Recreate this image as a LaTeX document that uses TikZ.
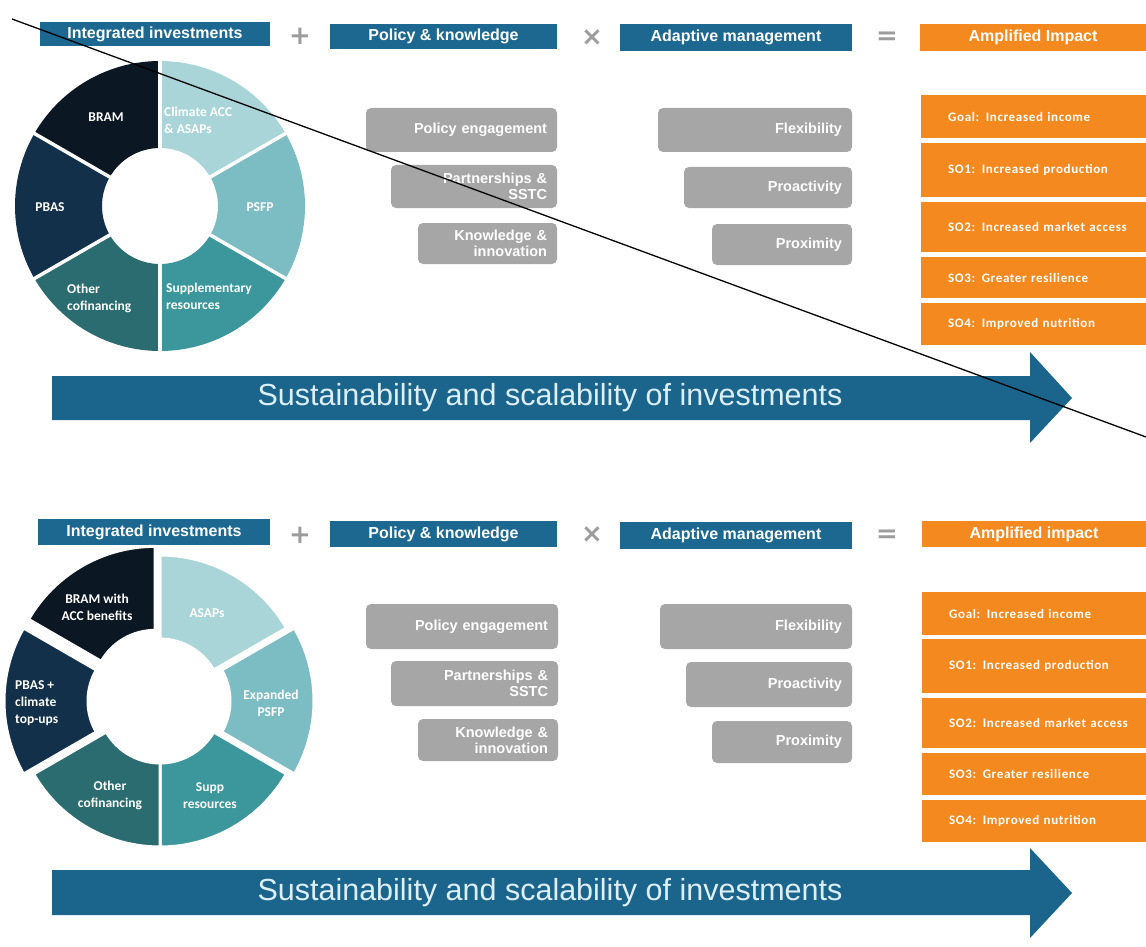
\documentclass[tikz,border=0pt]{standalone}
\usepackage{fontspec}
\setmainfont{Liberation Sans}
\newfontfamily\lib{Liberation Sans}
\newfontfamily\carl{Carlito}
\newfontfamily\carlsp[LetterSpace=5]{Carlito}
\newfontfamily\djv{DejaVu Sans}
\definecolor{hdrblue}{HTML}{1C6891}
\definecolor{arrblue}{HTML}{1B648C}
\definecolor{orng}{HTML}{F48A1F}
\definecolor{gbox}{HTML}{A6A6A6}
\definecolor{symgray}{HTML}{9C9C9C}
\definecolor{cBRAM}{HTML}{0B1722}
\definecolor{cPBAS}{HTML}{13304A}
\definecolor{cOTH}{HTML}{2B6C71}
\definecolor{cSUP}{HTML}{3C979C}
\definecolor{cPSFP}{HTML}{7CBDC4}
\definecolor{cCLIM}{HTML}{A9D4D8}
\definecolor{arrtext}{HTML}{DDEFF6}
\newcommand\donseg[5]{\fill[#5] (#1:#3) arc[start angle=#1, end angle=#2, radius=#3] -- (#2:#4) arc[start angle=#2, end angle=#1, radius=#4] -- cycle;}
\newcommand\donsegw[5]{\filldraw[fill=#5, draw=white, line width=3pt, line join=round] (#1:#3) arc[start angle=#1, end angle=#2, radius=#3] -- (#2:#4) arc[start angle=#2, end angle=#1, radius=#4] -- cycle;}
\tikzset{
  hdr/.style={fill=hdrblue, text=white, font=\lib\bfseries\fontsize{16}{18}\selectfont, inner sep=0pt},
  amp/.style={hdr, fill=orng},
  opsym/.style={text=symgray, font=\djv\bfseries\fontsize{26}{28}\selectfont, inner sep=0pt},
  gb/.style={fill=gbox, rounded corners=5pt, text=white, font=\lib\bfseries\fontsize{14.5}{16}\selectfont, align=right, inner xsep=10pt, inner ysep=0pt},
  orow/.style={fill=orng, text=white, font=\carlsp\bfseries\fontsize{13}{15}\selectfont, align=left, inner xsep=27pt, inner ysep=0pt, anchor=north west, text width=198pt},
  dlab/.style={text=white, font=\carl\bfseries\fontsize{13.5}{17}\selectfont, inner sep=0pt},
  arrtxt/.style={text=arrtext, font=\lib\fontsize{30.5}{34}\selectfont, inner sep=0pt}
}
\begin{document}
\begin{tikzpicture}[x=1pt,y=1pt]
\useasboundingbox (0,0) rectangle (1146,-947);
\fill[white] (0,0) rectangle (1146,-947);

% ================= TOP PANEL =================
\node[hdr, minimum width=230pt, minimum height=24pt] (h1) at (155,-34) {Integrated investments};
\node[opsym] (p1) at (300,-36) {+};
\node[hdr, minimum width=227pt, minimum height=25pt] (h2) at (443.5,-36.5) {Policy \& knowledge};
\node[opsym] (x1) at (592,-38) {×};
\node[hdr, minimum width=232pt, minimum height=27pt] (h3) at (736,-37.5) {Adaptive management};
\node[opsym] (e1) at (887,-38) {=};
\node[amp, minimum width=226pt, minimum height=27pt] (h4) at (1033,-37.5) {Amplified Impact};

% donut top
\begin{scope}[shift={(160,-206)}]
\donseg{90}{30}{145}{58}{cCLIM}
\donseg{30}{-30}{145}{58}{cPSFP}
\donseg{-30}{-90}{145}{58}{cSUP}
\donseg{-90}{-150}{145}{58}{cOTH}
\donseg{210}{150}{145}{58}{cPBAS}
\donseg{150}{90}{145}{58}{cBRAM}
\foreach \a in {90,30,-30,-90,-150,150}
  \draw[white, line width=3.5pt] (\a:56) -- (\a:148);
\end{scope}
\node[dlab] (tBRAM) at (106,-117) {BRAM};
\node[dlab, align=left, anchor=west] (tCLIM) at (164,-120) {Climate ACC\\\& ASAPs};
\node[dlab] (tPSFP) at (260,-207) {PSFP};
\node[dlab, align=left, anchor=west] (tSUP) at (166,-296) {Supplementary\\resources};
\node[dlab, align=left, anchor=west] (tOTH) at (67,-298) {Other\\cofinancing};
\node[dlab] (tPBAS) at (50,-207) {PBAS};

% gray boxes top
\node[gb, text width=171pt, minimum height=44pt] (pe1) at (461.5,-130) {Policy engagement};
\node[gb, text width=146pt, minimum height=43pt] (ps1) at (474,-186.5) {Partnerships \&\\SSTC};
\node[gb, text width=119pt, minimum height=41pt] (ki1) at (487.5,-243.5) {Knowledge \&\\innovation};
\node[gb, text width=174pt, minimum height=44pt] (fl1) at (755,-130) {Flexibility};
\node[gb, text width=148pt, minimum height=41pt] (pa1) at (768,-187.5) {Proactivity};
\node[gb, text width=120pt, minimum height=41pt] (px1) at (782,-244.5) {Proximity};

% orange rows top
\node[orow, minimum height=43pt] (g1) at (921,-95) {Goal: Increased income};
\node[orow, minimum height=54pt] (s11) at (921,-143) {SO1: Increased production};
\node[orow, minimum height=50pt] (s21) at (921,-202) {SO2: Increased market access};
\node[orow, minimum height=41pt] (s31) at (921,-257) {SO3: Greater resilience};
\node[orow, minimum height=42pt] (s41) at (921,-303) {SO4: Improved nutrition};

% arrow top
\fill[arrblue] (52,-376) -- (1030,-376) -- (1030,-352) -- (1072,-398) -- (1030,-443) -- (1030,-420) -- (52,-420) -- cycle;
\node[arrtxt] (at1) at (550,-398) {Sustainability and scalability of investments};

% strike line
\coordinate (ls) at (12,-19);
\coordinate (le) at (1146,-437);
\draw[black, line width=1.3pt] (ls) -- (le);

% ================= BOTTOM PANEL =================
\node[hdr, minimum width=232pt, minimum height=26pt] (h1b) at (154,-532) {Integrated investments};
\node[opsym] (p2) at (300,-535) {+};
\node[hdr, minimum width=227pt, minimum height=26pt] (h2b) at (443.5,-534) {Policy \& knowledge};
\node[opsym] (x2) at (592,-535) {×};
\node[hdr, minimum width=232pt, minimum height=27pt] (h3b) at (736,-535.5) {Adaptive management};
\node[opsym] (e2) at (887,-536) {=};
\node[amp, minimum width=224pt, minimum height=26pt] (h4b) at (1034,-534) {Amplified impact};

% donut bottom
\begin{scope}[shift={(160,-701)}]
\donsegw{90}{30}{146}{62}{cCLIM}
\donsegw{-30}{-90}{146}{62}{cSUP}
\donsegw{-90}{-150}{146}{62}{cOTH}
\begin{scope}[shift={(0:8)}]
\donsegw{30}{-30}{146}{62}{cPSFP}
\end{scope}
\begin{scope}[shift={(180:10)}]
\donsegw{210}{150}{146}{62}{cPBAS}
\end{scope}
\begin{scope}[shift={(120:10)}]
\donsegw{150}{90}{146}{62}{cBRAM}
\end{scope}
\end{scope}
\node[dlab, align=center] (bBRAM) at (97,-607) {BRAM with\\ACC benefits};
\node[dlab, align=left, anchor=west] (bPBAS) at (15,-703) {PBAS +\\climate\\top-ups};
\node[dlab] (bASAP) at (207,-613) {ASAPs};
\node[dlab, align=center] (bPSFP) at (271,-703) {Expanded\\PSFP};
\node[dlab, align=center] (bSUP) at (210,-796) {Supp\\resources};
\node[dlab, align=center] (bOTH) at (110,-795) {Other\\cofinancing};

% gray boxes bottom
\node[gb, text width=172pt, minimum height=45pt] (pe2) at (462,-626.5) {Policy engagement};
\node[gb, text width=147pt, minimum height=45pt] (ps2) at (474.5,-683.5) {Partnerships \&\\SSTC};
\node[gb, text width=120pt, minimum height=42pt] (ki2) at (488,-740) {Knowledge \&\\innovation};
\node[gb, text width=172pt, minimum height=45pt] (fl2) at (756,-626.5) {Flexibility};
\node[gb, text width=146pt, minimum height=45pt] (pa2) at (769,-684.5) {Proactivity};
\node[gb, text width=120pt, minimum height=42pt] (px2) at (782,-742) {Proximity};

% orange rows bottom
\node[orow, minimum height=43pt] (g2) at (922,-592) {Goal: Increased income};
\node[orow, minimum height=54pt] (s12) at (922,-639) {SO1: Increased production};
\node[orow, minimum height=50pt] (s22) at (922,-698) {SO2: Increased market access};
\node[orow, minimum height=42pt] (s32) at (922,-753) {SO3: Greater resilience};
\node[orow, minimum height=42pt] (s42) at (922,-800) {SO4: Improved nutrition};

% arrow bottom
\fill[arrblue] (52,-870) -- (1030,-870) -- (1030,-848) -- (1072,-893) -- (1030,-938) -- (1030,-915) -- (52,-915) -- cycle;
\node[arrtxt] (at2) at (550,-893) {Sustainability and scalability of investments};
\end{tikzpicture}
\end{document}
